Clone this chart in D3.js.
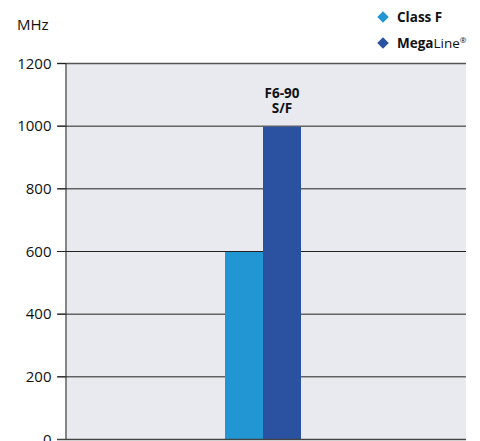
<!DOCTYPE html>
<html><head><meta charset="utf-8">
<script src="https://cdn.jsdelivr.net/npm/d3@7"></script>
<style>body{margin:0;background:#fff}svg{display:block}text{font-family:"Open Sans","DejaVu Sans",sans-serif}</style>
</head><body><svg id="c" width="480" height="441"></svg>
<script>
const categories = ["F6-90 S/F"];
const categoryLines = [["F6-90", "S/F"]];
const seriesNames = ["Class F", "MegaLine"];
const classF = [600];
const megaLine = [1000];
const yTicks = [0, 200, 400, 600, 800, 1000, 1200];
const colors = ["#2196d3", "#2a52a0"];

const svg = d3.select("#c");
const m = {l: 65, r: 466, t: 63, b: 439};
const x = d3.scaleBand().domain(categories).range([m.l, m.r - 5]).paddingInner(0).paddingOuter(2.105);
const xs = d3.scaleBand().domain(seriesNames).range([0, x.bandwidth()]);
const y = d3.scaleLinear().domain([0, 1200]).range([m.b, m.t]);

svg.append("rect").attr("x", m.l).attr("y", m.t).attr("width", m.r - m.l).attr("height", m.b - m.t).attr("fill", "#e9eaef");

const data = categories.map((c, i) => ({c, vals: [classF[i], megaLine[i]]}));

// grid lines
svg.append("g").selectAll("line").data(yTicks.filter(t => t > 0)).join("line")
  .attr("x1", m.l - 8).attr("x2", m.r).attr("y1", d => y(d) + 0.5).attr("y2", d => y(d) + 0.5)
  .attr("stroke", d => d === 1200 ? "#555" : "#222").attr("stroke-width", d => d === 1200 ? 1.5 : 1);

// bars
data.forEach((d, i) => {
  d.vals.forEach((v, j) => {
    svg.append("rect").attr("x", x(d.c) + xs(seriesNames[j])).attr("y", y(v) + 1)
      .attr("width", xs.bandwidth()).attr("height", y(0) - y(v) - 1).attr("fill", colors[j]);
  });
});

// y axis
const yAxis = d3.axisLeft(y).tickValues(yTicks).tickSize(8).tickPadding(6).tickFormat(d3.format("d"));
const ya = svg.append("g").attr("transform", `translate(${m.l + 0.5},0)`).call(yAxis);
ya.select(".domain").attr("stroke", "#222");
ya.selectAll(".tick line").attr("stroke", "#222");
ya.selectAll(".tick text").attr("font-size", 15).attr("fill", "#111").attr("dy", "0.35em");

// bottom axis line
svg.append("line").attr("x1", m.l - 8).attr("x2", m.r).attr("y1", m.b + 0.5).attr("y2", m.b + 0.5).attr("stroke", "#444").attr("stroke-width", 1.5);

// MHz
svg.append("text").attr("x", 17).attr("y", 30).attr("font-size", 15).attr("fill", "#111").text("MHz");

// category label
data.forEach((d, i) => {
  const cx = x(d.c) + xs(seriesNames[1]) + xs.bandwidth() / 2;
  categoryLines[i].forEach((ln, k) => svg.append("text").attr("text-anchor", "middle").attr("font-size", 13.5)
    .attr("font-weight", "bold").attr("fill", "#111").attr("x", cx).attr("y", 98 + k * 15).text(ln));
});

// legend
const leg = svg.append("g");
const ly = [17, 43];
seriesNames.forEach((s, j) => {
  leg.append("path").attr("d", d3.symbol(d3.symbolDiamond2, 85)()).attr("transform", `translate(383,${ly[j]})`).attr("fill", colors[j]);
  const t = leg.append("text").attr("x", 397).attr("y", ly[j] + 5).attr("font-size", 13.5).attr("fill", "#111");
  if (s === "MegaLine") {
    t.append("tspan").attr("font-weight", "bold").text("Mega");
    t.append("tspan").text("Line");
    t.append("tspan").attr("font-size", 8).attr("dy", -5).text("®");
  } else {
    t.append("tspan").attr("font-weight", "bold").text(s);
  }
});
</script></body></html>
